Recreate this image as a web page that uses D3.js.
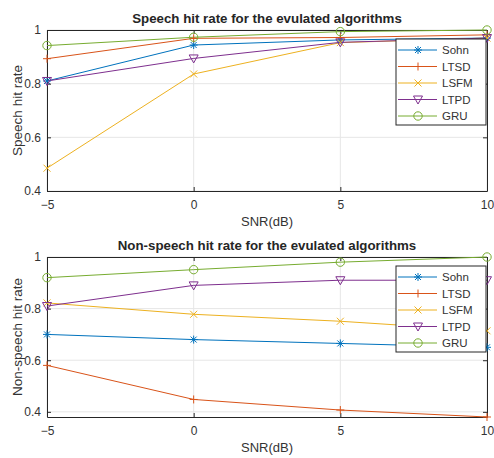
<!DOCTYPE html>
<html>
<head>
<meta charset="utf-8">
<script src="https://cdn.jsdelivr.net/npm/d3@7"></script>
<style>
body { margin: 0; background: #fff; }
svg text { font-family: "Liberation Sans", Arial, sans-serif; fill: #262626; }
</style>
</head>
<body>
<div class="chart"></div>
<script>
// data
var snr = [-5, 0, 5, 10];
var algos = ["Sohn", "LTSD", "LSFM", "LTPD", "GRU"];
var colors = ["#0072BD", "#D95319", "#EDB120", "#7E2F8E", "#77AC30"];
var markers = ["star", "plus", "cross", "tri", "circle"];

var speechSohn = [0.81, 0.944, 0.963, 0.97];
var speechLTSD = [0.893, 0.969, 0.972, 0.982];
var speechLSFM = [0.485, 0.836, 0.953, 0.97];
var speechLTPD = [0.81, 0.894, 0.954, 0.97];
var speechGRU  = [0.942, 0.973, 0.994, 1.0];

var nonSohn = [0.70, 0.68, 0.665, 0.65];
var nonLTSD = [0.58, 0.448, 0.407, 0.38];
var nonLSFM = [0.822, 0.778, 0.751, 0.714];
var nonLTPD = [0.81, 0.89, 0.91, 0.91];
var nonGRU  = [0.92, 0.951, 0.98, 1.0];

var yTicks = [0.4, 0.6, 0.8, 1];

var width = 494, height = 458;
var svg = d3.select(".chart").append("svg")
	.attr("width", width)
	.attr("height", height);

function drawMarker(g, type, color) {
	var s = 4;
	if (type == "circle") {
		g.append("circle").attr("r", 4.2).attr("fill", "none").attr("stroke", color);
	} else if (type == "tri") {
		g.append("path").attr("d", "M-4.5,-3.5L4.5,-3.5L0,4.5Z").attr("fill", "none").attr("stroke", color);
	} else if (type == "plus") {
		g.append("path").attr("d", "M-" + s + ",0L" + s + ",0M0,-" + s + "L0," + s).attr("stroke", color);
	} else if (type == "cross") {
		g.append("path").attr("d", "M-3.5,-3.5L3.5,3.5M-3.5,3.5L3.5,-3.5").attr("stroke", color);
	} else {
		g.append("path").attr("d", "M-" + s + ",0L" + s + ",0M0,-" + s + "L0," + s +
			"M-3,-3L3,3M-3,3L3,-3").attr("stroke", color);
	}
}

function makePlot(top, bottom, yMin, series, title, ylabel) {
	var left = 47, right = 487;
	var x = d3.scaleLinear().domain([-5, 10]).range([left, right]);
	var y = d3.scaleLinear().domain([yMin, 1]).range([bottom, top]);
	var g = svg.append("g");

	// grid
	g.selectAll(".gx").data(snr).enter().append("line")
		.attr("x1", d => x(d)).attr("x2", d => x(d))
		.attr("y1", top).attr("y2", bottom)
		.attr("stroke", "#e6e6e6");
	g.selectAll(".gy").data(yTicks).enter().append("line")
		.attr("x1", left).attr("x2", right)
		.attr("y1", d => y(d)).attr("y2", d => y(d))
		.attr("stroke", "#e6e6e6");

	// axes
	g.append("g").attr("transform", "translate(0," + bottom + ")")
		.call(d3.axisBottom(x).tickValues(snr).tickSizeInner(-4).tickSizeOuter(0).tickPadding(9));
	g.append("g").attr("transform", "translate(" + left + ",0)")
		.call(d3.axisLeft(y).tickValues(yTicks).tickSizeInner(-4).tickSizeOuter(0).tickPadding(6)
			.tickFormat(d3.format("")));
	g.append("g").attr("transform", "translate(0," + top + ")")
		.call(d3.axisTop(x).tickValues(snr).tickSizeInner(-4).tickSizeOuter(0).tickFormat(""));
	g.append("g").attr("transform", "translate(" + right + ",0)")
		.call(d3.axisRight(y).tickValues(yTicks).tickSizeInner(-4).tickSizeOuter(0).tickFormat(""));
	g.selectAll(".domain, .tick line").attr("stroke", "#262626");
	g.selectAll(".tick text").attr("font-size", 12).style("fill", "#333");

	// lines
	var line = d3.line().x((d, i) => x(snr[i])).y(d => y(d));
	series.forEach(function(s, k) {
		g.append("path").datum(s)
			.attr("d", line)
			.attr("fill", "none")
			.attr("stroke", colors[k])
			.attr("stroke-width", 1);
	});
	series.forEach(function(s, k) {
		s.forEach(function(v, i) {
			var m = g.append("g").attr("transform", "translate(" + x(snr[i]) + "," + y(v) + ")");
			drawMarker(m, markers[k], colors[k]);
		});
	});

	// titles
	g.append("text").attr("x", 267).attr("y", top - 7)
		.attr("text-anchor", "middle").attr("font-size", 13.3).attr("font-weight", "bold")
		.text(title);
	g.append("text").attr("x", 267).attr("y", bottom + 35)
		.attr("text-anchor", "middle").attr("font-size", 13)
		.style("fill", "#333")
		.text("SNR(dB)");
	g.append("text").attr("transform", "translate(22," + ((top + bottom) / 2) + ") rotate(-90)")
		.attr("text-anchor", "middle").attr("font-size", 13.5)
		.style("fill", "#333")
		.text(ylabel);

	// legend
	var lx = 396, ly = top + 9, lw = 90, lh = 86;
	var leg = g.append("g");
	leg.append("rect").attr("x", lx).attr("y", ly).attr("width", lw).attr("height", lh)
		.attr("fill", "#fff").attr("stroke", "#262626");
	algos.forEach(function(a, k) {
		var yy = ly + 11 + k * 16.5;
		leg.append("line").attr("x1", lx + 2).attr("x2", lx + 41)
			.attr("y1", yy).attr("y2", yy).attr("stroke", colors[k]);
		var m = leg.append("g").attr("transform", "translate(" + (lx + 22) + "," + yy + ")");
		drawMarker(m, markers[k], colors[k]);
		leg.append("text").attr("x", lx + 46).attr("y", yy + 4)
			.attr("font-size", 11.5).style("fill", "#333").text(a);
	});
}

makePlot(30, 191, 0.4, [speechSohn, speechLTSD, speechLSFM, speechLTPD, speechGRU],
	"Speech hit rate for the evulated algorithms", "Speech hit rate");
makePlot(257, 417, 0.38, [nonSohn, nonLTSD, nonLSFM, nonLTPD, nonGRU],
	"Non-speech hit rate for the evulated algorithms", "Non-speech hit rate");
</script>
</body>
</html>
